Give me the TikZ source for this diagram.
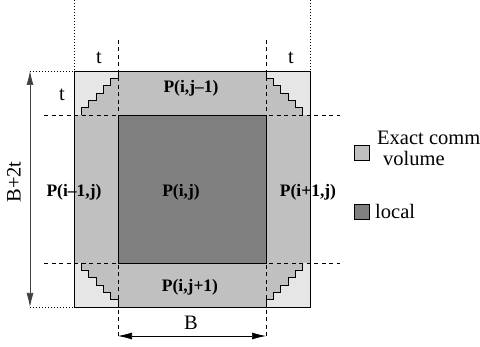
\documentclass[tikz,border=0pt]{standalone}
\usepackage{fontspec}
\setmainfont{Liberation Serif}
\usepackage{tikz,xcolor}
\usetikzlibrary{arrows.meta, positioning}
\definecolor{lightcol}{RGB}{230,230,230}
\definecolor{midcol}{RGB}{192,192,192}
\definecolor{darkcol}{RGB}{128,128,128}

\begin{document}
\begin{tikzpicture}[x=1pt, y=-1pt,
		base/.style = {inner sep=0pt, font=\fontsize{20.5}{22}\selectfont},
		plabel/.style = {inner sep=0pt, font=\fontsize{17.5}{19}\selectfont\bfseries},
		cut/.style = {dash pattern=on 4pt off 3.5pt, line width=0.7pt},
		guide/.style = {dash pattern=on 1pt off 2pt, line width=0.7pt},
		dim/.style = {{Latex[length=14pt,width=7pt]}-{Latex[length=14pt,width=7pt]}, line width=0.7pt},
		keybox/.style = {draw, line width=0.7pt, minimum width=15pt, minimum height=15pt, inner sep=0pt}
		]
		\useasboundingbox (0,0) rectangle (480,347);
		\def\s{7.3333}
		
		% blocks
		\fill[midcol] (74,71) rectangle (310,307);
		\foreach \sx/\sy in {1/1, -1/1, 1/-1, -1/-1} {
			\begin{scope}[shift={(192,189)}, xscale=\sx, yscale=\sy]
				\fill[lightcol] (-118,-118) -- (-118,-74) -- (-110.6667,-74)
				\foreach \k in {1,...,5} { -- ++(0,-\s) -- ++(\s,0) } -- ++(0,-\s) -- cycle;
			\end{scope}
		}
		\fill[darkcol] (118,115) rectangle (266,263);
		
		% cut lines
		\draw[cut] (118,40) -- (118,338);
		\draw[cut] (266,40) -- (266,338);
		\draw[cut] (44,115) -- (340,115);
		\draw[cut] (44,263) -- (340,263);
		
		% staircases
		\foreach \sx/\sy in {1/1, -1/1, 1/-1, -1/-1} {
			\begin{scope}[shift={(192,189)}, xscale=\sx, yscale=\sy]
				\draw[line width=0.8pt] (-110.6667,-74)
				\foreach \k in {1,...,5} { -- ++(0,-\s) -- ++(\s,0) } -- ++(0,-\s);
			\end{scope}
		}
		\draw[line width=0.9pt] (74,71) rectangle (310,307);
		\draw[line width=0.8pt] (118,115) rectangle (266,263);
		
		% guides
		\draw[guide] (74,0) -- (74,71);
		\draw[guide] (310,0) -- (310,71);
		\draw[guide] (30,71) -- (74,71);
		\draw[guide] (30,307) -- (74,307);
		
		% dimensions
		\coordinate (T) at (30,71);
		\coordinate (U) at (30,307);
		\coordinate (L) at (118,336);
		\coordinate (R) at (266,336);
		\draw[dim, draw=black!75] (T) -- (U);
		\draw[dim] (L) -- (R);
		\node (H) [base, rotate=90] at (14,182) {B+2t};
		\node (W) [base] at (191,323) {B};
		\node (T1) [base] at (99,58) {t};
		\node (T2) [base] at (62,95) {t};
		\node (T3) [base] at (291,58) {t};
		
		% labels
		\node (N) [plabel] at (191,88) {P(i,j--1)};
		\node (Wst) [plabel] at (74,192) {P(i--1,j)};
		\node (C) [plabel] at (181,192) {P(i,j)};
		\node (E) [plabel] at (308,192) {P(i+1,j)};
		\node (S) [plabel] at (190,287) {P(i,j+1)};
		
		% legend
		\node (K1) [keybox, fill=midcol] at (361.5,152.5) {};
		\node (K2) [keybox, fill=darkcol] at (361.5,211.5) {};
		\node (X1) [base, anchor=base west] at (377,145) {Exact comm};
		\node (X2) [base, anchor=base west] at (383,166) {volume};
		\node (X3) [base, anchor=base west] at (375,219) {local};
	\end{tikzpicture}
\end{document}
